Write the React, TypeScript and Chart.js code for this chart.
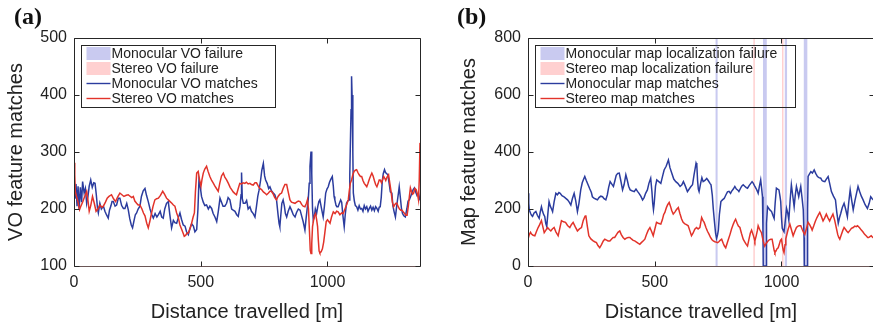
import React, { useEffect, useRef } from "react";
import { Chart, registerables } from "chart.js";

Chart.register(...registerables);

const FONT = '"Liberation Sans", Arial, Helvetica, sans-serif';
const TEXT = "#222222";
const BLUE = "#2b3c9e";
const RED = "#e2332a";
const BLUE_BAND = "#c9caf0";
const RED_BAND = "#ffd0d0";

const X_MAX = 1365;
const X_TICKS = [0, 500, 1000];
const VO_Y_TICKS = [100, 200, 300, 400, 500];
const MAP_Y_TICKS = [0, 200, 400, 600, 800];

const X_TITLE = "Distance travelled [m]";
const VO_Y_TITLE = "VO feature matches";
const MAP_Y_TITLE = "Map feature matches";

const VO_LEGEND = ["Monocular VO failure", "Stereo VO failure", "Monocular VO matches", "Stereo VO matches"];
const MAP_LEGEND = [
  "Monocular map localization failure",
  "Stereo map localization failure",
  "Monocular map matches",
  "Stereo map matches",
];

// [distance (m), matches]
const monoVo: [number, number][] = [
  [0,236],[4,218],[8,244],[12,205],[16,240],[20,199],[25,238],[30,212],[34,248],[40,228],[45,236],[50,210],[55,222],[60,240],[66,251],[72,238],[78,246],[83,245],[88,225],[93,200],[96,193],[102,210],[108,200],[116,205],[122,196],[128,190],[135,184],[140,198],[146,206],[150,213],[155,213],[162,205],[168,207],[175,219],[181,219],[188,206],[195,201],[201,201],[208,210],[214,199],[220,183],[226,172],[231,167],[237,180],[242,190],[247,193],[253,200],[260,205],[266,222],[273,232],[280,236],[286,224],[293,213],[300,200],[307,190],[313,184],[320,192],[327,186],[333,190],[340,196],[346,186],[352,184],[358,200],[365,210],[372,213],[378,190],[385,167],[392,180],[398,176],[405,175],[411,184],[418,193],[424,182],[431,172],[438,170],[444,160],[451,155],[457,165],[464,174],[471,170],[477,160],[484,164],[489,200],[493,251],[499,236],[503,222],[510,212],[516,206],[523,207],[530,200],[536,205],[543,201],[549,192],[556,186],[563,178],[569,195],[576,219],[582,212],[588,205],[595,205],[602,210],[608,220],[615,216],[622,200],[628,198],[635,196],[642,190],[648,187],[655,205],[659,225],[661,264],[664,218],[668,210],[675,210],[681,215],[687,200],[694,204],[700,196],[707,192],[714,186],[720,205],[725,222],[730,233],[736,250],[741,268],[747,280],[752,258],[756,251],[762,245],[768,236],[773,239],[779,232],[786,228],[792,225],[799,216],[805,190],[809,175],[812,169],[816,190],[820,210],[825,216],[830,205],[834,192],[839,186],[845,196],[852,204],[858,198],[865,190],[872,186],[878,194],[885,200],[892,198],[898,188],[904,178],[911,163],[916,185],[921,205],[924,216],[928,245],[931,275],[935,301],[938,262],[941,200],[944,181],[948,186],[952,200],[957,192],[962,205],[966,213],[970,216],[975,204],[979,195],[983,186],[988,205],[993,228],[998,235],[1003,239],[1008,247],[1013,252],[1019,257],[1023,240],[1026,222],[1029,216],[1033,208],[1037,204],[1042,204],[1047,210],[1052,216],[1056,212],[1061,188],[1066,169],[1070,190],[1075,210],[1080,214],[1085,216],[1088,260],[1091,330],[1093,374],[1095,433],[1097,400],[1100,300],[1102,228],[1106,214],[1110,206],[1115,204],[1120,198],[1125,206],[1130,200],[1135,201],[1140,196],[1145,206],[1150,200],[1155,204],[1160,196],[1165,201],[1170,205],[1175,198],[1180,203],[1185,197],[1190,204],[1195,201],[1200,196],[1204,203],[1208,204],[1212,220],[1216,248],[1220,262],[1225,269],[1229,264],[1234,262],[1238,260],[1243,246],[1248,230],[1254,228],[1258,206],[1263,195],[1268,186],[1273,205],[1279,225],[1283,239],[1288,218],[1292,200],[1296,192],[1301,188],[1307,186],[1313,200],[1318,214],[1323,216],[1328,222],[1333,228],[1338,234],[1343,237],[1348,230],[1353,224],[1359,228],[1365,215],
];

const stereoVo: [number, number][] = [
  [0,281],[3,260],[5,231],[10,222],[16,212],[22,199],[28,206],[35,213],[42,222],[50,231],[55,215],[60,196],[66,206],[73,222],[80,210],[87,196],[94,200],[102,207],[110,203],[116,205],[124,212],[131,219],[138,222],[148,225],[156,218],[164,213],[172,221],[181,228],[189,225],[197,222],[206,224],[214,225],[222,222],[228,220],[234,222],[240,214],[247,210],[253,207],[260,207],[268,200],[274,193],[280,188],[287,175],[293,167],[299,178],[306,193],[312,205],[319,216],[326,218],[333,219],[341,224],[350,231],[357,226],[365,219],[372,216],[379,213],[386,210],[392,207],[398,205],[405,193],[412,184],[418,172],[425,164],[431,157],[435,152],[441,154],[446,158],[451,158],[458,166],[464,175],[470,186],[475,193],[479,230],[484,263],[490,266],[495,252],[501,240],[505,252],[510,263],[516,270],[523,275],[529,266],[536,257],[543,250],[549,246],[556,240],[562,236],[569,231],[575,245],[582,258],[589,263],[595,256],[602,251],[609,245],[616,238],[622,234],[628,230],[635,227],[641,225],[648,236],[654,245],[661,244],[667,246],[674,245],[680,247],[687,244],[694,245],[700,243],[707,242],[714,246],[720,246],[727,240],[733,236],[740,234],[747,230],[753,228],[760,225],[767,228],[773,231],[779,231],[786,226],[792,220],[799,216],[805,222],[812,226],[819,228],[825,236],[832,243],[839,243],[845,230],[852,216],[858,212],[865,211],[872,210],[878,212],[885,214],[892,213],[898,208],[904,205],[911,204],[917,210],[921,216],[925,200],[929,160],[932,128],[935,122],[938,140],[941,169],[945,180],[949,189],[953,192],[957,182],[961,169],[964,145],[967,126],[970,123],[975,125],[980,130],[985,142],[990,160],[995,178],[1000,181],[1005,178],[1010,175],[1016,186],[1023,195],[1030,192],[1036,196],[1042,195],[1049,190],[1056,193],[1062,192],[1069,200],[1076,208],[1082,216],[1086,232],[1090,245],[1095,251],[1100,260],[1105,266],[1110,268],[1115,269],[1120,264],[1125,260],[1130,257],[1135,257],[1140,250],[1145,245],[1150,242],[1155,239],[1160,245],[1165,252],[1170,258],[1175,263],[1180,258],[1185,250],[1190,243],[1195,239],[1200,245],[1204,251],[1208,251],[1213,246],[1218,252],[1222,257],[1226,254],[1230,250],[1235,256],[1241,260],[1246,245],[1251,230],[1256,212],[1261,204],[1266,208],[1270,210],[1274,210],[1279,204],[1284,200],[1289,198],[1294,198],[1299,195],[1304,192],[1309,189],[1314,189],[1319,205],[1323,222],[1327,237],[1331,231],[1336,226],[1340,228],[1345,236],[1350,234],[1355,226],[1359,216],[1362,250],[1365,316],
];

const monoMap: [number, number][] = [
  [0,255],[3,220],[5,197],[10,185],[14,178],[18,174],[24,186],[31,191],[37,178],[44,167],[48,188],[53,208],[58,190],[62,180],[66,174],[70,150],[74,139],[79,190],[83,226],[88,210],[93,200],[97,191],[103,225],[110,255],[116,250],[122,258],[127,255],[134,247],[142,243],[148,238],[156,232],[162,225],[169,214],[175,236],[182,255],[188,230],[195,191],[201,220],[208,267],[214,292],[220,306],[224,314],[230,300],[237,285],[244,270],[250,258],[254,243],[260,238],[267,235],[274,232],[280,240],[287,245],[294,243],[300,236],[307,232],[313,250],[318,275],[324,296],[330,288],[337,279],[343,300],[348,318],[354,325],[360,326],[366,300],[373,267],[379,285],[386,320],[392,300],[397,280],[403,267],[410,264],[419,261],[426,270],[432,262],[438,255],[445,245],[452,232],[458,240],[464,255],[471,267],[477,290],[484,308],[489,260],[492,220],[495,197],[498,220],[503,280],[508,302],[516,296],[524,290],[530,312],[537,337],[545,350],[550,362],[554,372],[560,345],[567,326],[575,305],[583,296],[591,290],[600,279],[607,285],[613,296],[620,282],[629,261],[636,270],[642,278],[649,285],[655,320],[660,345],[663,361],[666,354],[669,300],[672,270],[675,261],[681,290],[686,310],[691,296],[698,300],[705,307],[711,300],[718,290],[722,285],[727,249],[731,200],[735,161],[740,115],[744,97],[748,110],[751,126],[755,180],[761,226],[767,232],[774,237],[781,250],[787,260],[793,262],[799,255],[803,262],[810,270],[816,279],[822,270],[828,266],[832,261],[838,272],[843,280],[849,285],[855,280],[861,275],[866,273],[873,283],[879,290],[884,296],[889,290],[895,279],[901,270],[905,262],[908,255],[913,280],[918,302],[922,270],[925,243],[927,120],[928,0],[940,0],[941,150],[945,208],[950,202],[955,196],[961,191],[966,178],[971,167],[975,220],[980,273],[985,270],[990,267],[994,245],[997,226],[1000,170],[1003,132],[1007,125],[1010,120],[1014,150],[1020,202],[1025,185],[1029,161],[1034,230],[1039,285],[1044,250],[1050,208],[1054,245],[1059,279],[1064,260],[1068,243],[1072,262],[1076,279],[1081,240],[1086,197],[1089,100],[1090,0],[1101,0],[1103,200],[1105,314],[1110,322],[1116,331],[1122,326],[1129,337],[1135,325],[1142,314],[1148,310],[1155,308],[1160,300],[1165,297],[1171,296],[1177,305],[1184,314],[1190,290],[1197,261],[1205,245],[1213,232],[1218,190],[1224,150],[1229,170],[1234,185],[1240,205],[1247,220],[1253,200],[1260,173],[1265,220],[1271,267],[1277,230],[1283,197],[1290,230],[1296,255],[1302,279],[1308,262],[1315,245],[1322,232],[1330,215],[1339,202],[1346,220],[1352,243],[1358,236],[1365,230],
];

const stereoMap: [number, number][] = [
  [0,94],[5,110],[10,118],[14,112],[20,108],[27,106],[33,120],[40,135],[46,145],[53,159],[58,140],[64,117],[70,125],[77,135],[84,128],[90,123],[96,130],[103,135],[110,120],[119,106],[125,130],[132,159],[140,155],[148,153],[156,142],[165,135],[171,145],[178,153],[186,138],[195,123],[203,130],[211,135],[218,160],[225,175],[228,178],[234,140],[240,106],[248,95],[257,88],[263,85],[270,82],[276,72],[283,64],[290,75],[297,88],[303,94],[310,91],[316,88],[323,88],[330,95],[336,100],[342,100],[349,110],[355,118],[362,123],[368,110],[375,100],[382,94],[388,98],[395,100],[402,100],[408,95],[415,90],[421,88],[428,84],[434,80],[441,76],[447,82],[454,88],[461,94],[467,110],[474,125],[481,135],[488,120],[494,106],[500,128],[507,153],[514,150],[520,148],[524,147],[530,162],[535,180],[540,188],[546,205],[551,215],[557,223],[562,210],[567,195],[573,182],[580,190],[586,198],[593,205],[599,185],[606,165],[612,153],[619,148],[625,145],[632,141],[638,125],[645,106],[651,115],[658,129],[665,135],[671,130],[678,135],[685,170],[690,160],[695,153],[702,135],[708,122],[714,112],[720,100],[726,92],[731,88],[737,85],[742,84],[748,82],[753,85],[758,90],[764,94],[770,80],[775,70],[780,64],[785,78],[791,95],[797,111],[803,130],[810,147],[815,158],[819,164],[825,150],[830,140],[836,135],[842,115],[849,94],[855,85],[861,76],[866,70],[872,95],[877,115],[882,126],[888,110],[892,98],[895,88],[900,105],[905,125],[908,141],[914,128],[921,117],[926,95],[931,78],[934,70],[940,80],[947,88],[952,92],[958,94],[963,94],[968,70],[971,55],[974,47],[978,52],[982,60],[987,64],[992,78],[996,90],[1000,94],[1004,70],[1007,55],[1010,47],[1014,75],[1017,95],[1020,106],[1026,128],[1033,147],[1039,128],[1046,106],[1052,120],[1059,135],[1065,140],[1070,141],[1076,141],[1082,128],[1087,118],[1092,111],[1098,130],[1105,153],[1111,145],[1117,135],[1121,126],[1127,140],[1134,158],[1140,170],[1146,180],[1151,188],[1157,175],[1164,158],[1170,168],[1177,182],[1183,170],[1190,158],[1196,170],[1203,182],[1210,160],[1216,135],[1222,110],[1226,100],[1230,94],[1236,110],[1242,125],[1247,135],[1253,128],[1258,122],[1263,117],[1270,125],[1276,132],[1283,135],[1289,140],[1295,138],[1300,141],[1308,134],[1315,126],[1321,120],[1328,111],[1335,105],[1340,100],[1344,100],[1349,103],[1354,106],[1360,100],[1365,98],
];

// failure intervals [start, end] in metres
const monoVoFail: [number, number][] = [];
const stereoVoFail: [number, number][] = [];
const monoMapFail: [number, number][] = [[740, 748], [927, 942], [1013, 1022], [1088, 1102]];
const stereoMapFail: [number, number][] = [[889, 894], [1002, 1007]];

const toXY = (s: [number, number][]) => s.map(([x, y]) => ({ x, y }));
const tickList = (vals: number[]) => (scale: any) => {
  scale.ticks = vals.map((v) => ({ value: v }));
};

const matlabPlugin = {
  id: "matlabAxes",
  beforeDatasetsDraw(chart: any, _args: any, opts: any) {
    const { ctx, chartArea: a, scales } = chart;
    const xs = scales.x;
    ctx.save();
    (opts.bands || []).forEach((b: any) => {
      ctx.fillStyle = b.color;
      b.spans.forEach(([s, e]: [number, number]) => {
        const x1 = xs.getPixelForValue(s);
        const x2 = xs.getPixelForValue(e);
        ctx.fillRect(x1, a.top, Math.max(x2 - x1, 1.5), a.bottom - a.top);
      });
    });

    // legend box (transparent, as in the reference)
    const items = opts.legend || [];
    ctx.font = `14px ${FONT}`;
    const maxW = Math.max(...items.map((it: any) => ctx.measureText(it.label).width));
    const bx = Math.round(a.left) + 7.5;
    const by = Math.round(a.top) + 7.5;
    const bw = Math.round(30 + maxW + 18);
    const bh = 62;
    ctx.lineWidth = 1;
    ctx.strokeStyle = "#262626";
    ctx.strokeRect(bx, by, bw, bh);
    ctx.textBaseline = "middle";
    ctx.textAlign = "left";
    items.forEach((it: any, i: number) => {
      const cy = by + 8 + i * 15;
      if (it.type === "patch") {
        ctx.fillStyle = it.color;
        ctx.fillRect(bx + 5, cy - 6.5, 24, 13);
      } else {
        ctx.strokeStyle = it.color;
        ctx.lineWidth = 1.4;
        ctx.beginPath();
        ctx.moveTo(bx + 5, cy);
        ctx.lineTo(bx + 29, cy);
        ctx.stroke();
      }
      ctx.fillStyle = TEXT;
      ctx.fillText(it.label, bx + 30, cy + 0.5);
    });
    ctx.restore();
  },
  afterDatasetsDraw(chart: any) {
    const { ctx, chartArea: a, scales } = chart;
    const xs = scales.x;
    const ys = scales.y;
    const L = Math.round(a.left) + 0.5;
    const R = Math.round(a.right) + 0.5;
    const T = Math.round(a.top) + 0.5;
    const B = Math.round(a.bottom) + 0.5;
    ctx.save();
    ctx.lineWidth = 1;
    ctx.strokeStyle = "#262626";
    ctx.beginPath();
    ctx.moveTo(L, B);
    ctx.lineTo(L, T);
    ctx.lineTo(R, T);
    ctx.lineTo(R, B);
    ctx.stroke();
    ctx.strokeStyle = "#6a5656";
    ctx.beginPath();
    ctx.moveTo(L, B);
    ctx.lineTo(R, B);
    ctx.stroke();
    ctx.strokeStyle = "#262626";
    ctx.beginPath();
    xs.ticks.forEach((t: any) => {
      const px = Math.round(xs.getPixelForValue(t.value)) + 0.5;
      ctx.moveTo(px, B);
      ctx.lineTo(px, B - 5);
      ctx.moveTo(px, T);
      ctx.lineTo(px, T + 5);
    });
    ys.ticks.forEach((t: any) => {
      const py = Math.round(ys.getPixelForValue(t.value)) + 0.5;
      ctx.moveTo(L, py);
      ctx.lineTo(L + 5, py);
      ctx.moveTo(R, py);
      ctx.lineTo(R - 5, py);
    });
    ctx.stroke();
    ctx.restore();
  },
};

function makeConfig(p: {
  mono: [number, number][];
  stereo: [number, number][];
  monoFail: [number, number][];
  stereoFail: [number, number][];
  yTicks: number[];
  yTitle: string;
  legend: string[];
  yWidth: number;
  yTitlePad: number;
  padRight: number;
}) {
  const plain = (v: any) => String(v);
  return {
    type: "line",
    data: {
      datasets: [
        {
          label: p.legend[3],
          data: toXY(p.stereo),
          borderColor: RED,
          borderWidth: 1.5,
          pointRadius: 0,
          tension: 0,
          fill: false,
          order: 0,
        },
        {
          label: p.legend[2],
          data: toXY(p.mono),
          borderColor: BLUE,
          borderWidth: 1.5,
          pointRadius: 0,
          tension: 0,
          fill: false,
          order: 1,
        },
      ],
    },
    options: {
      responsive: false,
      animation: false,
      events: [],
      layout: { padding: { top: 38, right: p.padRight, left: 0, bottom: 0 } },
      scales: {
        x: {
          type: "linear",
          min: 0,
          max: X_MAX,
          afterBuildTicks: tickList(X_TICKS),
          afterFit: (s: any) => {
            s.height = 60;
          },
          grid: { display: false, drawTicks: false },
          border: { display: false },
          ticks: {
            padding: 7,
            color: TEXT,
            font: { size: 16, family: FONT },
            maxRotation: 0,
            autoSkip: false,
            callback: plain,
          },
          title: {
            display: true,
            text: X_TITLE,
            color: TEXT,
            font: { size: 20, family: FONT },
            padding: { top: 0, bottom: 2 },
          },
        },
        y: {
          type: "linear",
          min: p.yTicks[0],
          max: p.yTicks[p.yTicks.length - 1],
          afterBuildTicks: tickList(p.yTicks),
          afterFit: (s: any) => {
            s.width = p.yWidth;
          },
          grid: { display: false, drawTicks: false },
          border: { display: false },
          ticks: { padding: 7, color: TEXT, font: { size: 16, family: FONT }, autoSkip: false, callback: plain },
          title: {
            display: true,
            text: p.yTitle,
            color: TEXT,
            font: { size: 20, family: FONT },
            padding: { top: p.yTitlePad, bottom: 0 },
          },
        },
      },
      plugins: {
        legend: { display: false },
        tooltip: { enabled: false },
        matlabAxes: {
          bands: [
            { color: BLUE_BAND, spans: p.monoFail },
            { color: RED_BAND, spans: p.stereoFail },
          ],
          legend: [
            { label: p.legend[0], type: "patch", color: BLUE_BAND },
            { label: p.legend[1], type: "patch", color: RED_BAND },
            { label: p.legend[2], type: "line", color: BLUE },
            { label: p.legend[3], type: "line", color: RED },
          ],
        },
      },
    },
    plugins: [matlabPlugin],
  } as any;
}

export default function App() {
  const refA = useRef<HTMLCanvasElement>(null);
  const refB = useRef<HTMLCanvasElement>(null);

  useEffect(() => {
    const a = new Chart(
      refA.current as HTMLCanvasElement,
      makeConfig({
        mono: monoVo,
        stereo: stereoVo,
        monoFail: monoVoFail,
        stereoFail: stereoVoFail,
        yTicks: VO_Y_TICKS,
        yTitle: VO_Y_TITLE,
        legend: VO_LEGEND,
        yWidth: 74,
        yTitlePad: 4,
        padRight: 17,
      })
    );
    const b = new Chart(
      refB.current as HTMLCanvasElement,
      makeConfig({
        mono: monoMap,
        stereo: stereoMap,
        monoFail: monoMapFail,
        stereoFail: stereoMapFail,
        yTicks: MAP_Y_TICKS,
        yTitle: MAP_Y_TITLE,
        legend: MAP_LEGEND,
        yWidth: 91,
        yTitlePad: 20,
        padRight: 3,
      })
    );
    return () => {
      a.destroy();
      b.destroy();
    };
  }, []);

  const label: React.CSSProperties = {
    position: "absolute",
    top: 3,
    font: 'bold 24px "Liberation Serif", "Times New Roman", serif',
    color: "#111",
    lineHeight: "normal",
  };

  return (
    <div
      style={{
        position: "fixed",
        left: 0,
        top: 0,
        width: 873,
        height: 326,
        overflow: "hidden",
        background: "#fff",
      }}
    >
      <canvas
        ref={refA}
        width={437}
        height={326}
        style={{ position: "absolute", left: 0, top: 0, width: 437, height: 326 }}
      />
      <canvas
        ref={refB}
        width={440}
        height={326}
        style={{ position: "absolute", left: 437, top: 0, width: 440, height: 326 }}
      />
      <span style={{ ...label, left: 14 }}>(a)</span>
      <span style={{ ...label, left: 457 }}>(b)</span>
    </div>
  );
}
